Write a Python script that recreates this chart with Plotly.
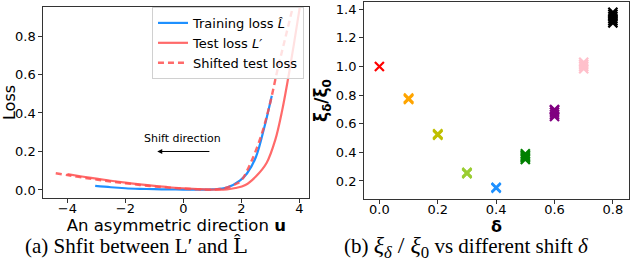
import plotly.graph_objects as go

# ---- left panel data ----
u_train = [-3.04, -2.5, -2.0, -1.5, -1.0, -0.5, 0.0, 0.5, 1.0, 1.5, 1.96, 2.2, 2.5, 2.8, 3.05]
loss_train = [0.021, 0.014, 0.009, 0.006, 0.004, 0.003, 0.002, 0.002, 0.003, 0.012, 0.05, 0.087, 0.17, 0.33, 0.49]

u_test = [-4.0, -3.5, -3.0, -2.5, -2.0, -1.5, -1.0, -0.5, 0.0, 0.5, 1.0, 1.5, 1.8, 2.14, 2.5, 2.87, 3.17, 3.41, 3.66, 4.0, 4.05]
loss_test = [0.082, 0.070, 0.059, 0.048, 0.038, 0.029, 0.021, 0.014, 0.009, 0.005, 0.002, 0.003, 0.010, 0.026, 0.07, 0.14, 0.26, 0.415, 0.62, 0.935, 0.99]

u_shift = [-4.4, -4.0, -3.5, -3.0, -2.5, -2.0, -1.5, -1.0, -0.5, 0.0, 0.5, 1.0, 1.4, 1.8, 2.0, 2.32, 2.68, 2.99, 3.24, 3.5, 3.75, 3.8]
loss_shift = [0.087, 0.077, 0.065, 0.054, 0.044, 0.035, 0.026, 0.018, 0.012, 0.007, 0.003, 0.002, 0.008, 0.03, 0.05, 0.14, 0.28, 0.45, 0.62, 0.78, 0.935, 0.97]

# ---- right panel data ----
deltas = [0.0, 0.1, 0.2, 0.3, 0.4, 0.5, 0.6, 0.7, 0.8]
ratio_runs = [
    [1.0],
    [0.77, 0.775, 0.78],
    [0.52, 0.525, 0.53],
    [0.25, 0.255, 0.26],
    [0.15, 0.155],
    [0.35, 0.36, 0.37, 0.38, 0.39],
    [0.65, 0.665, 0.68, 0.695, 0.70],
    [0.985, 1.0, 1.015, 1.03],
    [1.305, 1.32, 1.335, 1.35, 1.365, 1.38],
]
delta_colors = ["#ff0000", "#ffa500", "#bfbf00", "#9acd32", "#1e90ff",
                "#008000", "#800080", "#ffc0cb", "#000000"]

left_ticks = [-4, -2, 0, 2, 4]
left_yticks = [0.0, 0.2, 0.4, 0.6, 0.8]
right_xticks = [0.0, 0.2, 0.4, 0.6, 0.8]
right_yticks = [0.2, 0.4, 0.6, 0.8, 1.0, 1.2, 1.4]

RED = "rgba(255,80,80,0.85)"
SANS = "DejaVu Sans"
SERIF = "Liberation Serif"

fig = go.Figure()

fig.add_trace(go.Scatter(x=u_train, y=loss_train, mode="lines", line=dict(color="#1e90ff", width=2.2, shape="spline"),
                         name="Training loss <i>L̂</i>", xaxis="x", yaxis="y"))
fig.add_trace(go.Scatter(x=u_test, y=loss_test, mode="lines", line=dict(color=RED, width=2.2, shape="spline"),
                         name="Test loss <i>L′</i>", xaxis="x", yaxis="y"))
fig.add_trace(go.Scatter(x=u_shift, y=loss_shift, mode="lines", line=dict(color=RED, width=2.4, dash="6px,4px", shape="spline"),
                         name="Shifted test loss", xaxis="x", yaxis="y"))

for d, runs, c in zip(deltas, ratio_runs, delta_colors):
    fig.add_trace(go.Scatter(x=[d] * len(runs), y=runs, mode="markers",
                             marker=dict(symbol="x-thin", size=9, line=dict(color=c, width=2.2)),
                             showlegend=False, xaxis="x2", yaxis="y2"))

axis_common = dict(showline=True, mirror=True, linecolor="#333", linewidth=1, ticks="outside",
                   ticklen=4, tickcolor="#333", showgrid=False, zeroline=False, automargin=False,
                   tickfont=dict(family=SANS, size=13, color="black"))

fig.update_layout(
    width=630, height=268, margin=dict(l=0, r=0, t=0, b=0, autoexpand=False),
    paper_bgcolor="white", plot_bgcolor="white",
    xaxis=dict(domain=[0.0687, 0.491], range=[-4.83, 4.345], tickvals=left_ticks, anchor="y", ticklabelstandoff=-6,
               title=dict(text="An asymmetric direction <b>u</b>", font=dict(family=SANS, size=16.5, color="black"), standoff=0),
               **axis_common),
    yaxis=dict(domain=[0.261, 0.974], range=[-0.042, 0.951], tickvals=left_yticks, tickformat=".1f", anchor="x",
               title=dict(text="Loss", font=dict(family=SANS, size=16, color="black"), standoff=4),
               **axis_common),
    xaxis2=dict(domain=[0.578, 0.9985], range=[-0.0523, 0.8554], tickvals=right_xticks, tickformat=".1f", anchor="y2",
                ticklabelstandoff=-6,
                title=dict(text="<b>δ</b>", font=dict(family=SANS, size=16, color="black"), standoff=0),
                **axis_common),
    yaxis2=dict(domain=[0.2575, 0.9925], range=[0.074, 1.451], tickvals=right_yticks, tickformat=".1f", anchor="x2",
                title=dict(text="<b>ξ<sub>δ</sub>/ξ<sub>0</sub></b>", font=dict(family=SANS, size=17, color="black"), standoff=3),
                **axis_common),
    legend=dict(x=0.4825, y=0.974, xanchor="right", yanchor="top",
                bgcolor="rgba(255,255,255,0.8)", bordercolor="#d0d0d0", borderwidth=1,
                font=dict(family=SANS, size=13, color="black"), tracegroupgap=0, itemwidth=30),
    showlegend=True,
)

# arrow and label
fig.add_annotation(x=-0.9, y=0.2, ax=0.95, ay=0.2, xref="x", yref="y", axref="x", ayref="y",
                   text="", showarrow=True, arrowhead=2, arrowsize=1, arrowwidth=1, arrowcolor="black")
fig.add_annotation(x=-0.02, y=0.27, xref="x", yref="y", text="Shift direction", showarrow=False,
                   font=dict(family=SANS, size=11, color="black"))

# captions
fig.add_annotation(x=136 / 630, y=1 - 246 / 268, xref="paper", yref="paper", showarrow=False,
                   xanchor="center", yanchor="middle",
                   text="(a) Shfit between L′ and <span style='font-family:DejaVu Serif'>L̂</span>",
                   font=dict(family=SERIF, size=21, color="black"))
fig.add_annotation(x=466 / 630, y=1 - 247 / 268, xref="paper", yref="paper", showarrow=False,
                   xanchor="center", yanchor="middle",
                   text="(b) <span style='font-size:24px'><i>ξ<sub>δ</sub></i> / <i>ξ</i><sub>0</sub></span> vs different shift <i>δ</i>",
                   font=dict(family=SERIF, size=21, color="black"))

fig.write_html("out.html", config={"displayModeBar": False}, post_script="document.body.style.margin='0';")
